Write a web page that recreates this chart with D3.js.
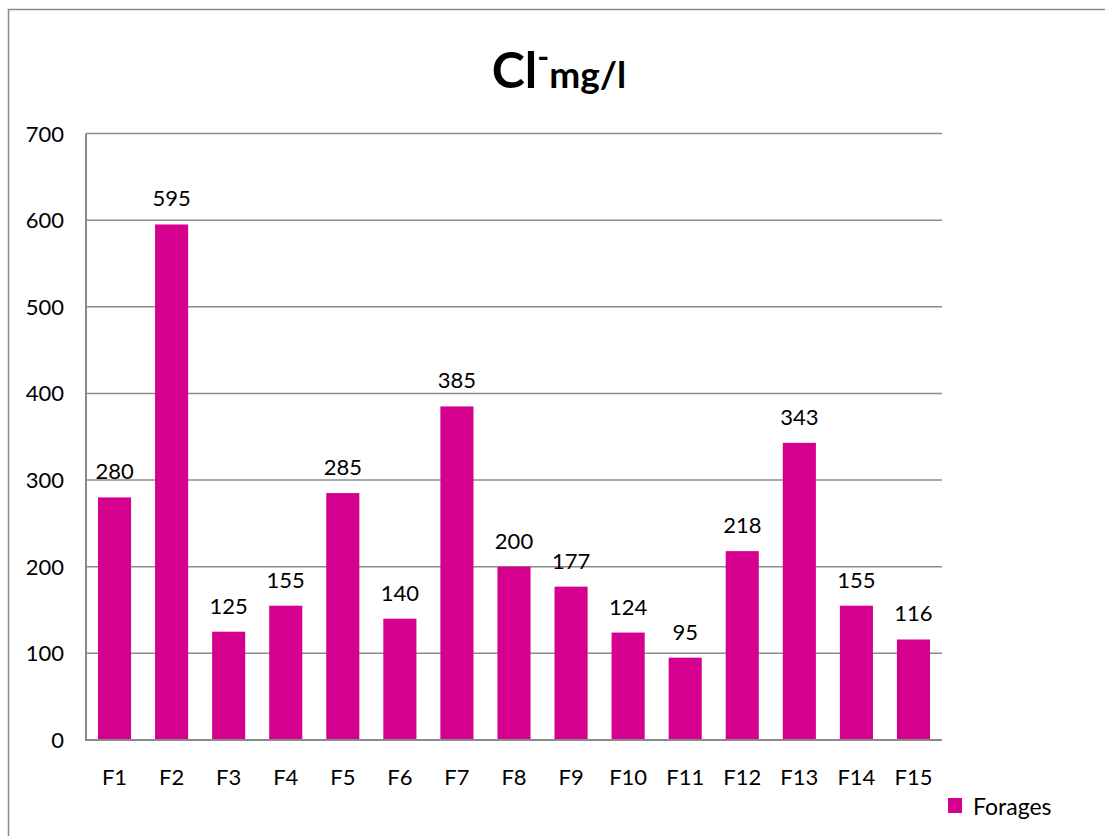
<!DOCTYPE html>
<html><head><meta charset="utf-8">
<script src="https://cdn.jsdelivr.net/npm/d3@7"></script>
<style>body{margin:0;background:#fff}svg{display:block}text{font-family:Lato,"Open Sans",sans-serif;fill:#000}</style>
</head><body><svg id="c" width="1105" height="836"></svg>
<script>
const categories = ["F1","F2","F3","F4","F5","F6","F7","F8","F9","F10","F11","F12","F13","F14","F15"];
const values = [280,595,125,155,285,140,385,200,177,124,95,218,343,155,116];
const yTicks = [0,100,200,300,400,500,600,700];
const seriesName = "Forages";

const svg = d3.select("#c");
const M = {l:86, r:942, t:133.5, b:740};
const x = d3.scaleBand().domain(categories).range([M.l, M.r]).paddingInner(0.42).paddingOuter(0.21);
const y = d3.scaleLinear().domain([0,700]).range([M.b, M.t]);
const color = "#d6008f";

// outer frame
svg.append("path").attr("d","M8.5,840 V9.5 H1110").attr("fill","none").attr("stroke","#8a8a8a").attr("stroke-width",1.5);

// gridlines
svg.append("g").selectAll("line").data(yTicks.filter(d=>d>0)).join("line")
  .attr("x1",M.l).attr("x2",M.r).attr("y1",d=>y(d)).attr("y2",d=>y(d))
  .attr("stroke","#8c8c8c").attr("stroke-width",1.5);

// y tick labels
svg.append("g").selectAll("text").data(yTicks).join("text")
  .attr("x",64).attr("y",d=>y(d)+8).attr("text-anchor","end")
  .style("font-size","22px").text(d=>d);

// bars
svg.append("g").selectAll("rect").data(values).join("rect")
  .attr("x",(d,i)=>x(categories[i])).attr("width",x.bandwidth())
  .attr("y",d=>y(d)).attr("height",d=>y(0)-y(d)).attr("fill",color);

// axes lines
svg.append("line").attr("x1",M.l).attr("x2",M.l).attr("y1",M.t).attr("y2",M.b).attr("stroke","#8a8a8a").attr("stroke-width",2);
svg.append("line").attr("x1",M.l-1).attr("x2",M.r).attr("y1",M.b).attr("y2",M.b).attr("stroke","#8a8a8a").attr("stroke-width",2);

// value labels
svg.append("g").selectAll("text").data(values).join("text")
  .attr("x",(d,i)=>x(categories[i])+x.bandwidth()/2).attr("y",d=>y(d)-18)
  .attr("text-anchor","middle").style("font-size","22px").text(d=>d);

// category labels
svg.append("g").selectAll("text").data(categories).join("text")
  .attr("x",d=>x(d)+x.bandwidth()/2).attr("y",785)
  .attr("text-anchor","middle").style("font-size","22px").text(d=>d);

// title
const t = svg.append("text").attr("x",559).attr("y",88).attr("text-anchor","middle").style("font-weight","bold");
t.append("tspan").style("font-size","50px").text("Cl");
t.append("tspan").style("font-size","32px").attr("dy",-20).text("-");
t.append("tspan").style("font-size","37px").attr("dy",20).text("mg/l");

// legend
svg.append("rect").attr("x",948).attr("y",798).attr("width",14).attr("height",15).attr("fill",color);
svg.append("text").attr("x",973).attr("y",815).style("font-size","23px").text(seriesName);
</script></body></html>
